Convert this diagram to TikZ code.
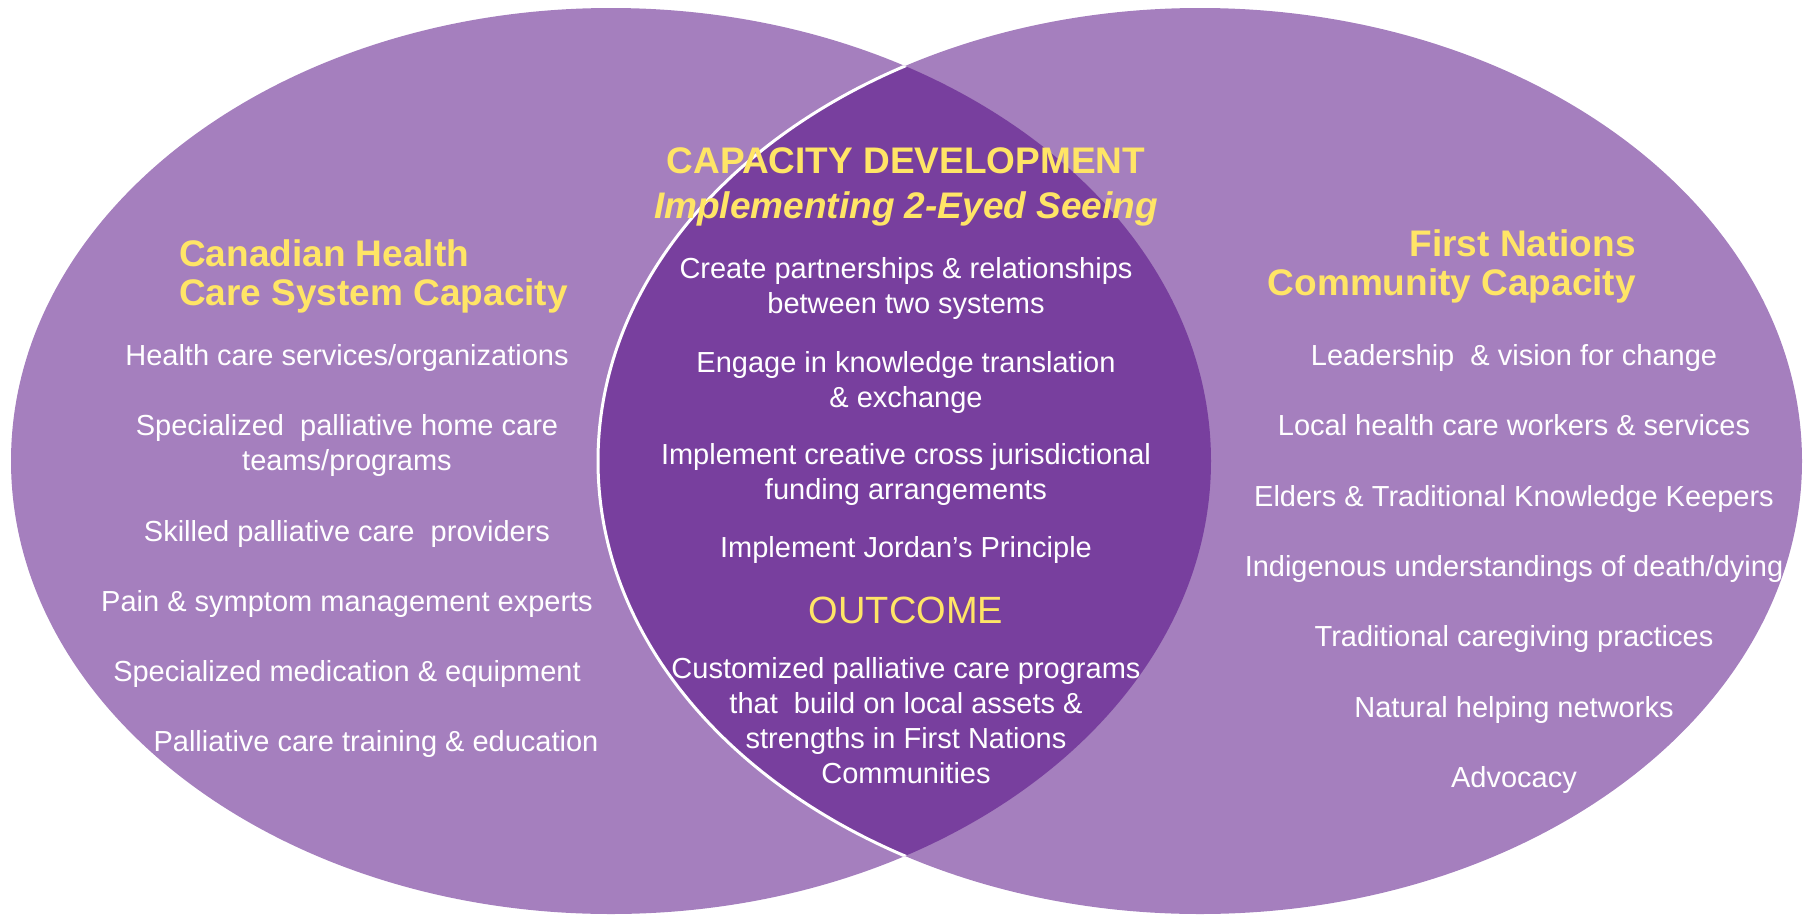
\documentclass[tikz,border=0pt]{standalone}
\usepackage{fontspec}
\setmainfont{Liberation Sans}
\definecolor{lightpurple}{HTML}{A57FBE}
\definecolor{darkpurple}{HTML}{783F9E}
\definecolor{titleyellow}{HTML}{FFE566}
\begin{document}
\begin{tikzpicture}[x=1pt,y=-1pt,
  body/.style={text=white, font=\fontsize{29}{35}\selectfont, align=center, anchor=base, inner sep=0pt},
  head/.style={text=titleyellow, font=\fontsize{37}{39}\selectfont\bfseries, inner sep=0pt, anchor=base}]
\useasboundingbox (0,0) rectangle (1808,916);
% circles
\fill[lightpurple] (611,461) ellipse [x radius=600pt, y radius=453pt];
\fill[lightpurple] (1200,461) ellipse [x radius=602pt, y radius=453pt];
\begin{scope}
  \clip (611,461) ellipse [x radius=600pt, y radius=453pt];
  \fill[darkpurple] (1200,461) ellipse [x radius=602pt, y radius=453pt];
  \draw[white, line width=3pt] (1200,461) ellipse [x radius=602pt, y radius=453pt];
\end{scope}
% left (multi-line nodes are placed by the baseline of their last line)
\node[head, align=left, anchor=base west] (lt) at (179,305) {Canadian Health\\Care System Capacity};
\node[body] (l1) at (347,365) {Health care services/organizations};
\node[body] (l2) at (347,470) {Specialized\ \ palliative home care\\teams/programs};
\node[body] (l3) at (347,541) {Skilled palliative care\ \ providers};
\node[body] (l4) at (347,611) {Pain \& symptom management experts};
\node[body] (l5) at (347,681) {Specialized medication \& equipment};
\node[body] (l6) at (376,751) {Palliative care training \& education};
% middle
\node[head, align=center, font=\fontsize{37}{45}\selectfont\bfseries] (mt) at (906,218) {CAPACITY DEVELOPMENT\\\itshape Implementing 2-Eyed Seeing};
\node[body] (m1) at (906,313) {Create partnerships \& relationships\\between two systems};
\node[body] (m2) at (906,407) {Engage in knowledge translation\\\& exchange};
\node[body] (m3) at (906,499) {Implement creative cross jurisdictional\\funding arrangements};
\node[body] (m4) at (906,557) {Implement Jordan’s Principle};
\node[body, text=titleyellow, font=\fontsize{38}{40}\selectfont] (oc) at (906,623) {OUTCOME};
\node[body] (o1) at (906,783) {Customized palliative care programs\\that\ \ build on local assets \&\\strengths in First Nations\\Communities};
% right
\node[head, align=right, anchor=base east] (rt) at (1636,295) {First Nations\\Community Capacity};
\node[body] (r1) at (1514,365) {Leadership\ \ \& vision for change};
\node[body] (r2) at (1514,435) {Local health care workers \& services};
\node[body] (r3) at (1514,506) {Elders \& Traditional Knowledge Keepers};
\node[body] (r4) at (1514,576) {Indigenous understandings of death/dying};
\node[body] (r5) at (1514,646) {Traditional caregiving practices};
\node[body] (r6) at (1514,717) {Natural helping networks};
\node[body] (r7) at (1514,787) {Advocacy};
\end{tikzpicture}
\end{document}
